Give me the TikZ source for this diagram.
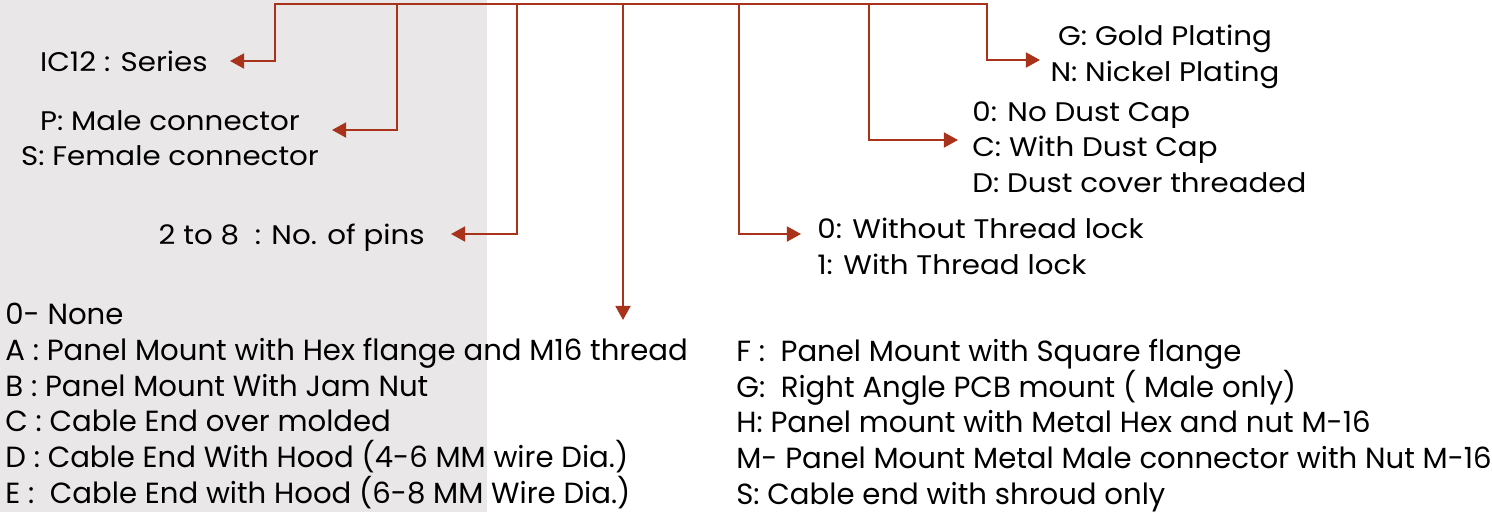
\documentclass[tikz,border=0pt]{standalone}
\usepackage{fontspec}
\setmainfont{Poppins}
\newfontfamily\widefont[FakeStretch=1.09]{Poppins}
\newfontfamily\condfont[FakeStretch=1.0]{Poppins}
\usetikzlibrary{arrows.meta}
\definecolor{rust}{HTML}{A8321A}
\definecolor{panel}{HTML}{E9E7E8}
\tikzset{
  spine/.style={rust,line width=1.2pt,line cap=rect},
  pick/.style={rust,line width=1.2pt,-{Triangle[length=8pt,width=8.5pt]}},
  lbl/.style={inner sep=0pt,font=\widefont\fontsize{15.3}{20.3}\selectfont},
  cond/.style={inner sep=0pt,align=left,font=\condfont\fontsize{16.6}{20.3}\selectfont}
}

\begin{document}
\begin{tikzpicture}[x=0.02cm,y=-0.02cm]
\useasboundingbox (0,0) rectangle (1492,512);
\fill[panel] (0,0) rectangle (487,512);

% junctions on the top line
\coordinate (j1) at (275,4);  \coordinate (j2) at (397,4);
\coordinate (j3) at (517,4);  \coordinate (j4) at (623,4);
\coordinate (j5) at (739,4);  \coordinate (j6) at (869,4);
\coordinate (j7) at (987,4);

% arrow tips
\coordinate (t1) at (230,61);  \coordinate (t2) at (332,130);
\coordinate (t3) at (451,234); \coordinate (t4) at (623,320);
\coordinate (t5) at (801,234); \coordinate (t6) at (958,140);
\coordinate (t7) at (1040,60);

% labels
\node[lbl,anchor=base east] (series) at (208,71) {IC12 : Series};
\node[lbl,anchor=north,align=center] (gender) at (170,110) {P: Male connector\\S: Female connector};
\node[lbl,anchor=north west,align=left] (lock) at (817,218) {0: Without Thread lock\\1: With Thread lock};
\node[lbl,anchor=base east] (pins) at (425,244) {2 to 8~ : No. of pins};
\node[lbl,anchor=north west,align=left] (cap) at (972,101) {0: No Dust Cap\\C: With Dust Cap\\D: Dust cover threaded};
\node[lbl,anchor=north,align=center] (plating) at (1165,25) {G: Gold Plating\\N: Nickel Plating};

\node[cond,anchor=north west] (mountA) at (5,303) {0- None\\
A : Panel Mount with Hex flange and M16 thread\\
B : Panel Mount With Jam Nut\\
C : Cable End over molded\\
D : Cable End With Hood (4-6 MM wire Dia.)\\
E :~ Cable End with Hood (6-8 MM Wire Dia.)};
\node[cond,anchor=north west] (mountF) at (736,339) {F :~ Panel Mount with Square flange\\
G:~ Right Angle PCB mount ( Male only)\\
H: Panel mount with Metal Hex and nut M-16\\
M- Panel Mount Metal Male connector with Nut M-16\\
S: Cable end with shroud only};

% connectors
\draw[spine] (j1) -- (j7);
\draw[pick] (j1) |- (t1);
\draw[pick] (j2) |- (t2);
\draw[pick] (j3) |- (t3);
\draw[pick] (j4) -- (t4);
\draw[pick] (j5) |- (t5);
\draw[pick] (j6) |- (t6);
\draw[pick] (j7) |- (t7);
\end{tikzpicture}
\end{document}
